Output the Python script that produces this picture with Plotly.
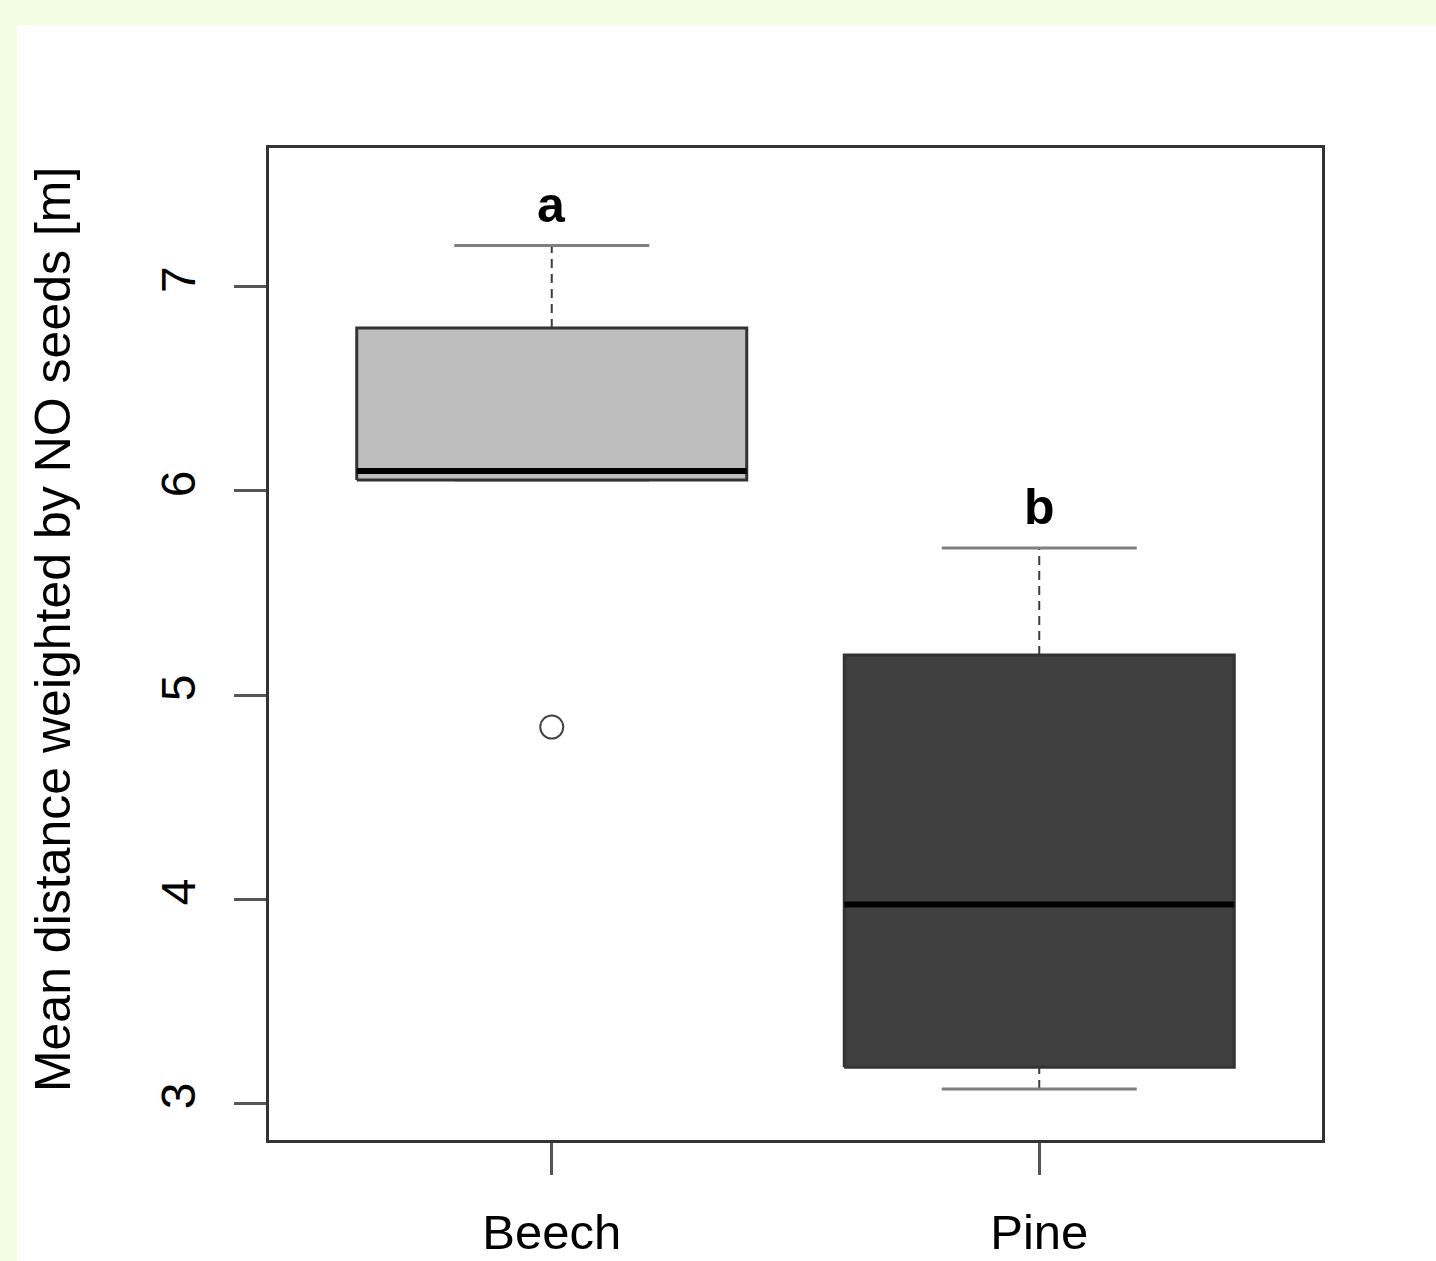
import plotly.graph_objects as go

# ---- data ----
categories = ["Beech", "Pine"]
q1 = [6.054, 3.175]
median = [6.098, 3.973]
q3 = [6.799, 5.196]
lower_whisker = [6.054, 3.069]
upper_whisker = [7.203, 5.721]
outlier_group = ["Beech"]
outlier_value = [4.843]
group_letters = ["a", "b"]
y_ticks = [3, 4, 5, 6, 7]

# ---- style ----
box_fills = ["#bebebe", "#404040"]
box_half = 0.4
cap_half = 0.2
letter_offset = 0.2
FONT = "Liberation Sans, Arial, Helvetica, sans-serif"
W, H = 1436, 1261
ML, MR, MT, MB = 269, 114, 148, 121
pw = W - ML - MR
ph = H - MT - MB

fig = go.Figure()
pos = {c: i + 1 for i, c in enumerate(categories)}

for i, c in enumerate(categories):
    x = pos[c]
    # dashed whiskers
    fig.add_trace(go.Scatter(x=[x, x], y=[q3[i], upper_whisker[i]], mode="lines",
                             line=dict(color="#3c3c3c", width=2, dash="9px,6px"),
                             hoverinfo="skip", showlegend=False))
    fig.add_trace(go.Scatter(x=[x, x], y=[lower_whisker[i], q1[i]], mode="lines",
                             line=dict(color="#3c3c3c", width=2, dash="9px,6px"),
                             hoverinfo="skip", showlegend=False))
    # caps
    for wv in (upper_whisker[i], lower_whisker[i]):
        fig.add_trace(go.Scatter(x=[x - cap_half, x + cap_half], y=[wv, wv], mode="lines",
                                 line=dict(color="#7f7f7f", width=3),
                                 hoverinfo="skip", showlegend=False))
    # box
    fig.add_trace(go.Scatter(x=[x - box_half, x + box_half, x + box_half, x - box_half, x - box_half],
                             y=[q1[i], q1[i], q3[i], q3[i], q1[i]], mode="lines",
                             fill="toself", fillcolor=box_fills[i],
                             line=dict(color="#333333", width=3),
                             hoverinfo="skip", showlegend=False))
    # median
    fig.add_trace(go.Scatter(x=[x - box_half, x + box_half], y=[median[i], median[i]], mode="lines",
                             line=dict(color="#000000", width=6),
                             hoverinfo="skip", showlegend=False))
    # letter
    fig.add_annotation(x=x, y=upper_whisker[i] + letter_offset, xref="x", yref="y",
                       text="<b>%s</b>" % group_letters[i], showarrow=False,
                       font=dict(family=FONT, size=50, color="#000000"),
                       xanchor="center", yanchor="middle")

# outliers
fig.add_trace(go.Scatter(x=[pos[g] for g in outlier_group], y=outlier_value, mode="markers",
                         marker=dict(symbol="circle-open", size=23, color="#444444",
                                     line=dict(width=2, color="#444444")),
                         hoverinfo="skip", showlegend=False))

# y title
fig.add_annotation(x=(53 - ML) / pw, y=0.514, xref="paper", yref="paper",
                   text="Mean distance weighted by NO seeds [m]", textangle=-90,
                   showarrow=False, font=dict(family=FONT, size=50, color="#000000"),
                   xanchor="center", yanchor="middle")

# white panel inside the light-green frame (pixel edges converted to paper units)
fig.add_shape(type="rect", xref="paper", yref="paper",
              x0=(17 - ML) / pw, x1=(W + 50 - ML) / pw,
              y0=(H - MB - (H + 50)) / ph, y1=(H - MB - 25) / ph,
              fillcolor="#ffffff", line=dict(width=0), layer="below")

fig.update_layout(
    width=W, height=H,
    margin=dict(l=ML, r=MR, t=MT, b=MB, pad=0, autoexpand=False),
    paper_bgcolor="#f3fde1", plot_bgcolor="#ffffff",
    font=dict(family=FONT, size=48, color="#000000"),
    showlegend=False,
)
fig.update_xaxes(range=[0.42, 2.58], tickvals=[pos[c] for c in categories], ticktext=categories,
                 ticks="outside", ticklen=32, tickwidth=3, tickcolor="#555555",
                 showline=True, linecolor="#333333", linewidth=3, mirror=True,
                 showgrid=False, zeroline=False, tickfont=dict(size=49),
                 ticklabelstandoff=15, automargin=False)
fig.update_yaxes(range=[2.819, 7.681], tickvals=y_ticks, ticktext=[str(t) for t in y_ticks],
                 ticks="outside", ticklen=32, tickwidth=3, tickcolor="#555555",
                 showline=True, linecolor="#333333", linewidth=3, mirror=True,
                 showgrid=False, zeroline=False, tickangle=-90, tickfont=dict(size=48),
                 ticklabelstandoff=20, automargin=False)

fig.write_html("out.html")
